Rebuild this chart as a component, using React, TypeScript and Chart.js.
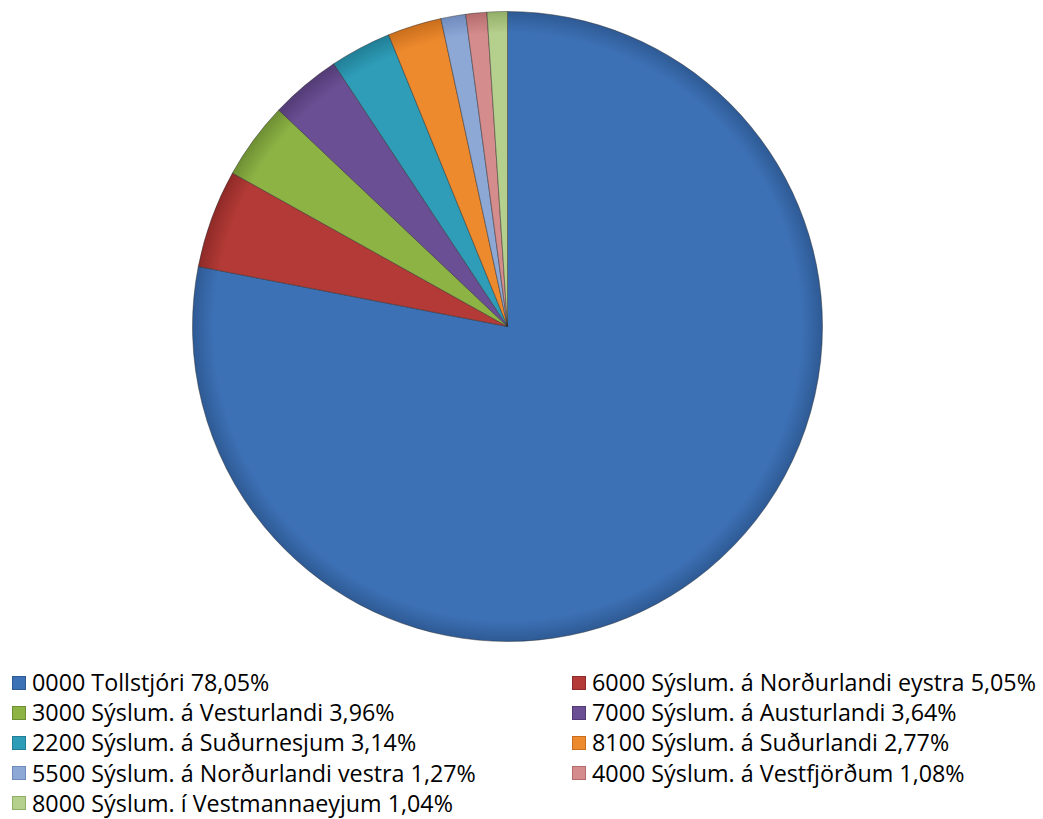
import React, { useEffect, useRef } from "react";
import { Chart, registerables } from "chart.js";

Chart.register(...registerables);

const categories: string[] = [
  "0000 Tollstjóri",
  "6000 Sýslum. á Norðurlandi eystra",
  "3000 Sýslum. á Vesturlandi",
  "7000 Sýslum. á Austurlandi",
  "2200 Sýslum. á Suðurnesjum",
  "8100 Sýslum. á Suðurlandi",
  "5500 Sýslum. á Norðurlandi vestra",
  "4000 Sýslum. á Vestfjörðum",
  "8000 Sýslum. í Vestmannaeyjum",
];
const percentages: number[] = [78.05, 5.05, 3.96, 3.64, 3.14, 2.77, 1.27, 1.08, 1.04];
const percentLabels: string[] = ["78,05%", "5,05%", "3,96%", "3,64%", "3,14%", "2,77%", "1,27%", "1,08%", "1,04%"];
const colors: string[] = [
  "#3D71B6",
  "#B33A36",
  "#8DB345",
  "#6B4F94",
  "#2F9DB8",
  "#EE8A2E",
  "#8EA8D6",
  "#D48C8C",
  "#B5CF8C",
];
const edgeColors: string[] = [
  "#2E5A94",
  "#8E2A27",
  "#6E8E33",
  "#523B75",
  "#217E96",
  "#C96E1C",
  "#6F8BBD",
  "#B36B6B",
  "#91AE66",
];

export default function App() {
  const canvasRef = useRef<HTMLCanvasElement | null>(null);

  useEffect(() => {
    document.body.style.margin = "0";
    document.documentElement.style.overflow = "hidden";
    if (!canvasRef.current) return;
    const chart = new Chart(canvasRef.current, {
      type: "pie",
      data: {
        labels: categories,
        datasets: [
          {
            data: percentages,
            backgroundColor: (ctx: any) => {
              const i = ctx.dataIndex;
              const c = ctx.chart;
              const area = c.chartArea;
              if (!area) return colors[i];
              const cx = (area.left + area.right) / 2;
              const cy = (area.top + area.bottom) / 2;
              const r = Math.min(area.width, area.height) / 2;
              const g = c.ctx.createRadialGradient(cx, cy, 0, cx, cy, r);
              g.addColorStop(0, colors[i]);
              g.addColorStop(0.93, colors[i]);
              g.addColorStop(1, edgeColors[i]);
              return g;
            },
            borderColor: "rgba(40,40,40,0.45)",
            borderWidth: 1,
          },
        ],
      },
      options: {
        animation: false,
        responsive: true,
        maintainAspectRatio: false,
        layout: { padding: { top: 3, bottom: 6, left: 0, right: 28 } },
        plugins: {
          legend: { display: false },
          tooltip: { enabled: false },
        },
      },
    });
    return () => chart.destroy();
  }, []);

  return (
    <div
      style={{
        position: "relative",
        width: 1043,
        height: 819,
        overflow: "hidden",
        fontFamily: "'Open Sans', sans-serif",
      }}
    >
      <div style={{ position: "absolute", left: 8, top: 8, width: 1027, height: 640 }}>
        <canvas ref={canvasRef} />
      </div>
      {categories.map((cat, i) => {
        const col = i % 2;
        const row = Math.floor(i / 2);
        const left = col === 0 ? 12 : 572;
        const top = 675 + row * 30.2;
        return (
          <div
            key={cat}
            style={{
              position: "absolute",
              left,
              top,
              height: 15,
              display: "flex",
              alignItems: "center",
              whiteSpace: "nowrap",
            }}
          >
            <span
              style={{
                display: "inline-block",
                width: 14,
                height: 14,
                background: colors[i],
                border: `1px solid ${edgeColors[i]}`,
                marginRight: 6,
                boxSizing: "border-box",
                flexShrink: 0,
              }}
            />
            <span style={{ fontSize: 23.3, color: "#000", lineHeight: "15px" }}>
              {cat} {percentLabels[i]}
            </span>
          </div>
        );
      })}
    </div>
  );
}
